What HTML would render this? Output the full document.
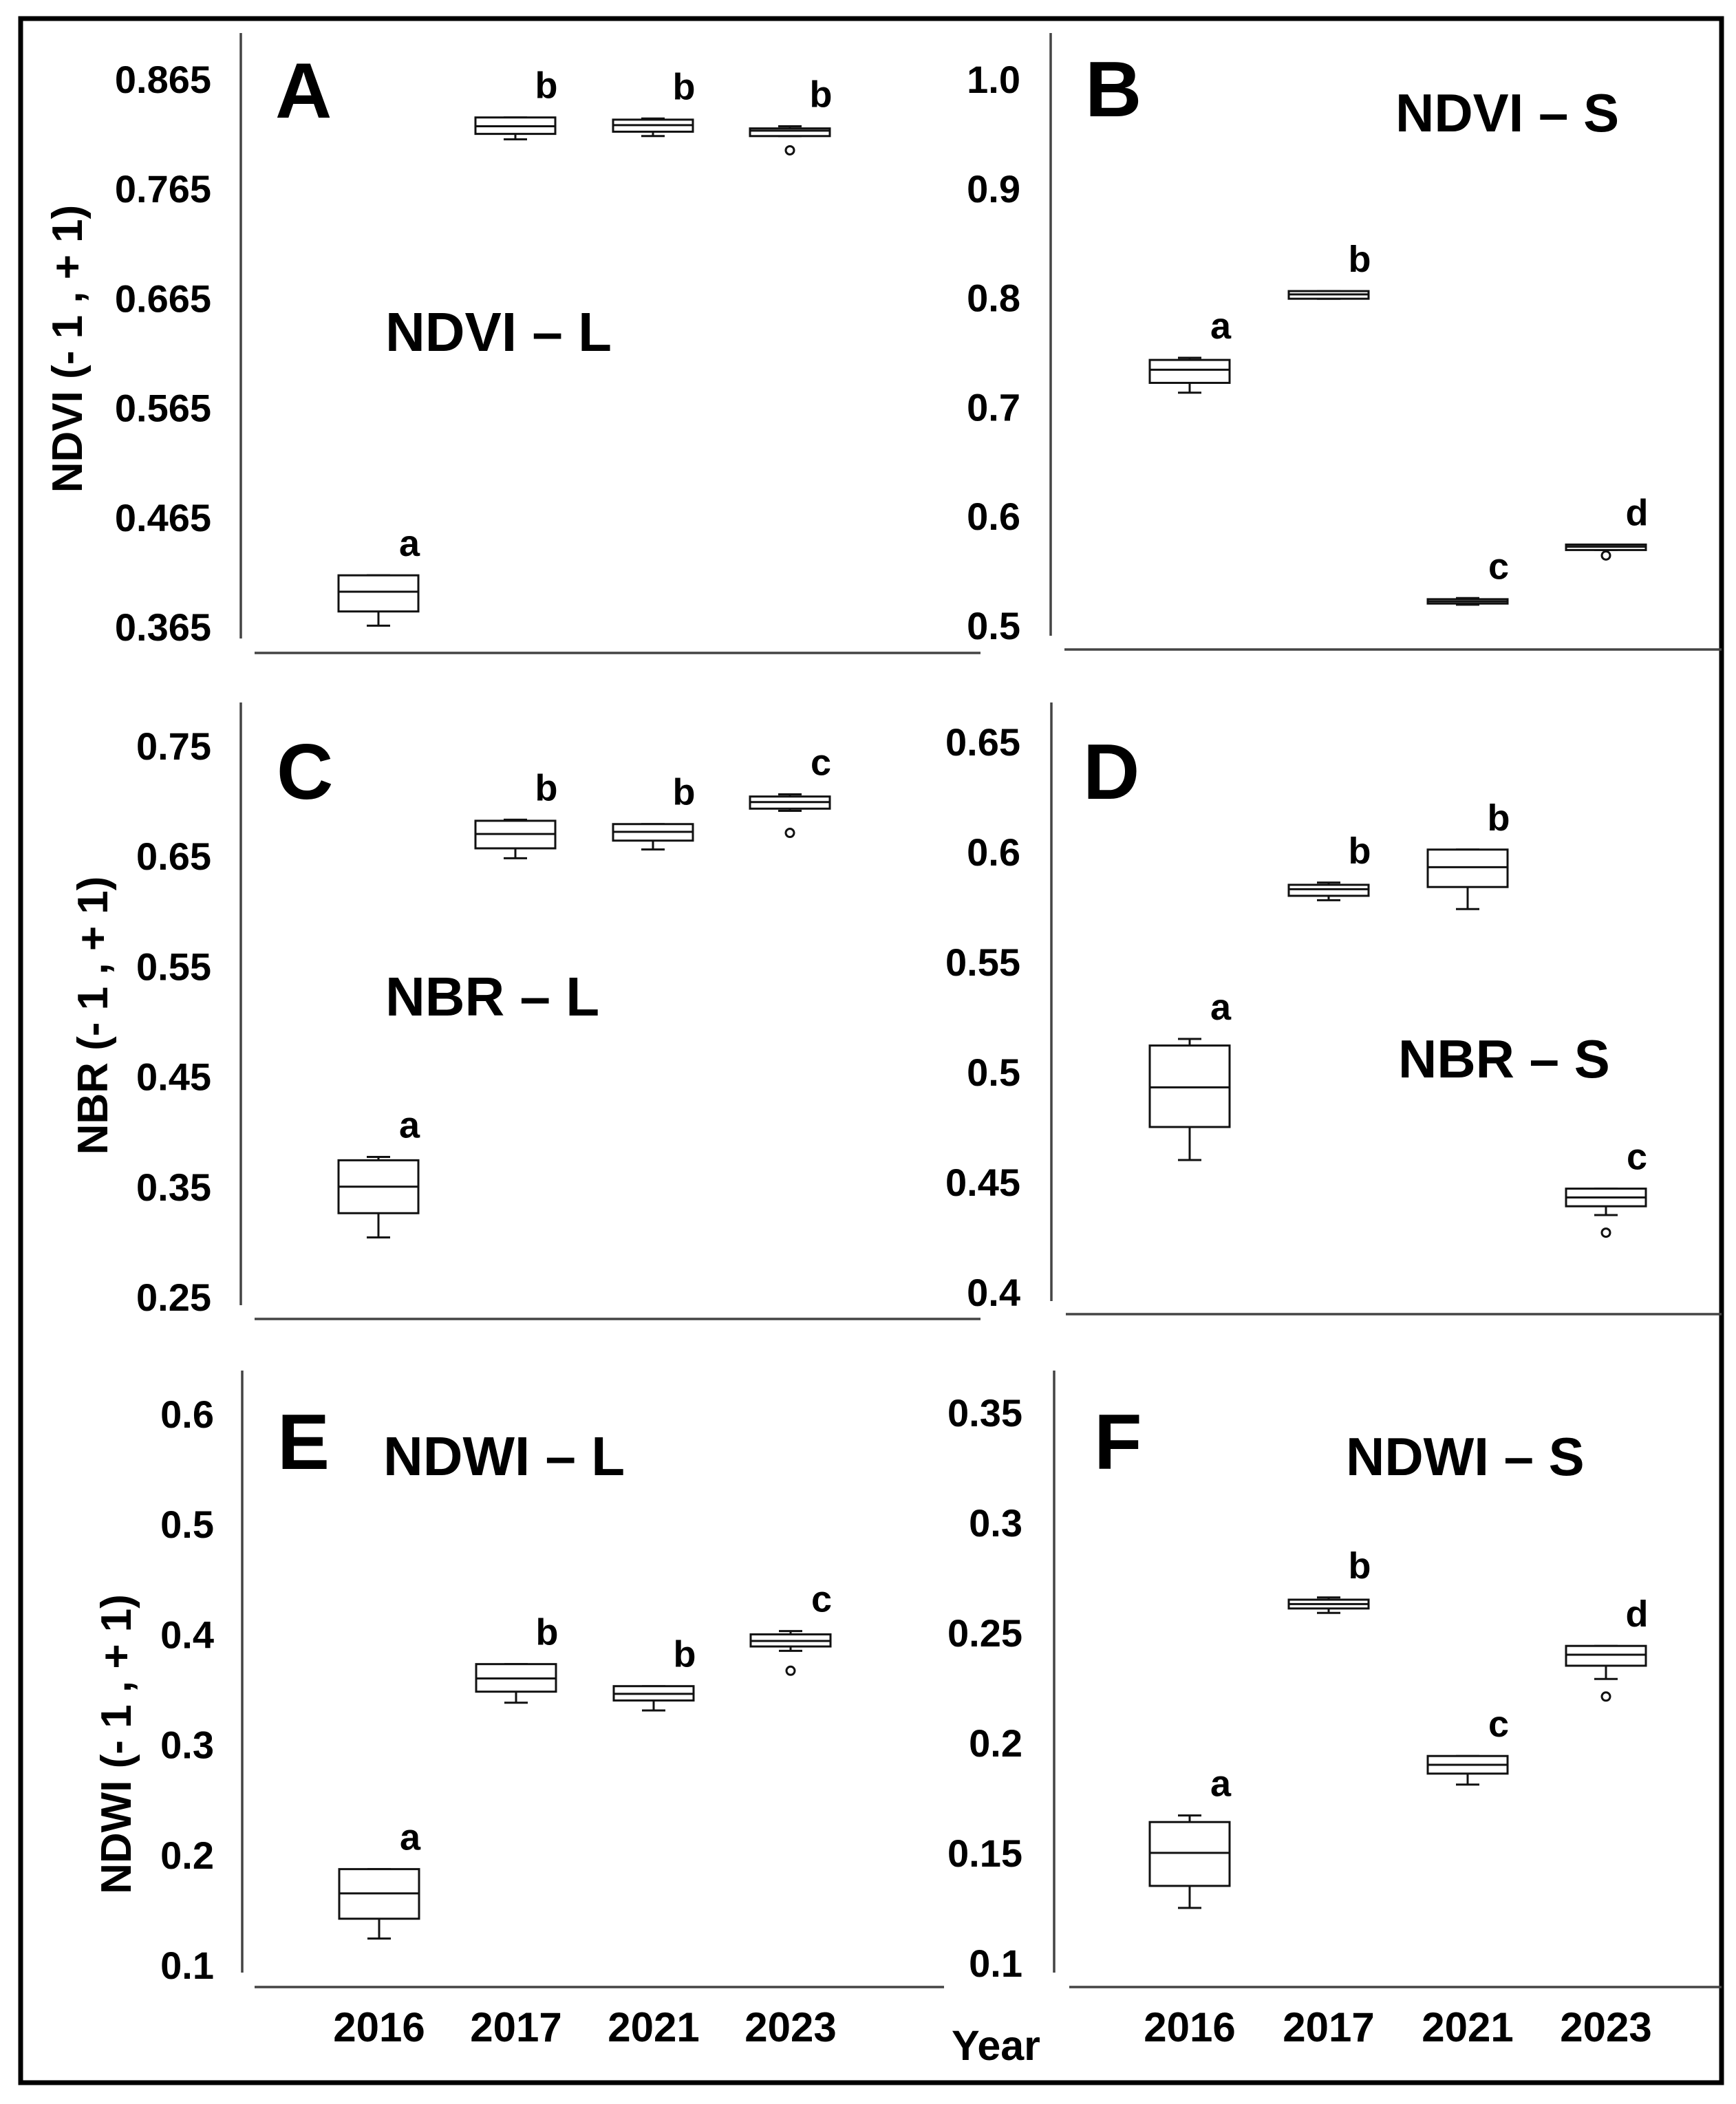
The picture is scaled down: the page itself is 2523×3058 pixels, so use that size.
<!DOCTYPE html>
<html><head><meta charset="utf-8"><style>
html,body{margin:0;padding:0;background:#fff}
svg{display:block}
text{font-family:"Liberation Sans",Arial,sans-serif;font-weight:bold;fill:#000}
</style></head><body>
<svg id="fig" width="2523" height="3058" viewBox="0 0 2523 3058" xmlns="http://www.w3.org/2000/svg">
<rect x="30" y="27" width="2472" height="3000" fill="#fff" stroke="#000" stroke-width="7"/>
</svg>
<script>
const categories = ["2016","2017","2021","2023"];
// Panel A: NDVI - L
const ndviL_min = [0.366, 0.810, 0.813, 0.813];
const ndviL_q1  = [0.379, 0.815, 0.817, 0.813];
const ndviL_med = [0.397, 0.822, 0.823, 0.818];
const ndviL_q3  = [0.412, 0.830, 0.828, 0.820];
const ndviL_max = [0.412, 0.830, 0.829, 0.822];
const ndviL_out = [null, null, null, 0.800];
const ndviL_let = ["a","b","b","b"];
const ndviL_ticks = ["0.365","0.465","0.565","0.665","0.765","0.865"];
// Panel B: NDVI - S
const ndviS_min = [0.713, 0.799, 0.519, 0.569];
const ndviS_q1  = [0.722, 0.799, 0.520, 0.569];
const ndviS_med = [0.734, 0.803, 0.522, 0.572];
const ndviS_q3  = [0.743, 0.806, 0.524, 0.574];
const ndviS_max = [0.745, 0.806, 0.525, 0.574];
const ndviS_out = [null, null, null, 0.564];
const ndviS_let = ["a","b","c","d"];
const ndviS_ticks = ["0.5","0.6","0.7","0.8","0.9","1.0"];
// Panel C: NBR - L
const nbrL_min = [0.304, 0.648, 0.656, 0.691];
const nbrL_q1  = [0.326, 0.657, 0.664, 0.693];
const nbrL_med = [0.350, 0.670, 0.672, 0.699];
const nbrL_q3  = [0.374, 0.682, 0.679, 0.704];
const nbrL_max = [0.377, 0.683, 0.679, 0.706];
const nbrL_out = [null, null, null, 0.671];
const nbrL_let = ["a","b","b","c"];
const nbrL_ticks = ["0.25","0.35","0.45","0.55","0.65","0.75"];
// Panel D: NBR - S
const nbrS_min = [0.460, 0.578, 0.574, 0.435];
const nbrS_q1  = [0.475, 0.580, 0.584, 0.439];
const nbrS_med = [0.493, 0.583, 0.593, 0.443];
const nbrS_q3  = [0.512, 0.585, 0.601, 0.447];
const nbrS_max = [0.515, 0.586, 0.601, 0.447];
const nbrS_out = [null, null, null, 0.427];
const nbrS_let = ["a","b","b","c"];
const nbrS_ticks = ["0.4","0.45","0.5","0.55","0.6","0.65"];
// Panel E: NDWI - L
const ndwiL_min = [0.124, 0.338, 0.331, 0.385];
const ndwiL_q1  = [0.142, 0.348, 0.340, 0.389];
const ndwiL_med = [0.165, 0.360, 0.346, 0.394];
const ndwiL_q3  = [0.187, 0.373, 0.353, 0.400];
const ndwiL_max = [0.187, 0.373, 0.353, 0.403];
const ndwiL_out = [null, null, null, 0.367];
const ndwiL_let = ["a","b","b","c"];
const ndwiL_ticks = ["0.1","0.2","0.3","0.4","0.5","0.6"];
// Panel F: NDWI - S
const ndwiS_min = [0.125, 0.259, 0.181, 0.229];
const ndwiS_q1  = [0.135, 0.261, 0.186, 0.235];
const ndwiS_med = [0.150, 0.263, 0.190, 0.240];
const ndwiS_q3  = [0.164, 0.265, 0.194, 0.244];
const ndwiS_max = [0.167, 0.266, 0.194, 0.244];
const ndwiS_out = [null, null, null, 0.221];
const ndwiS_let = ["a","b","c","d"];
const ndwiS_ticks = ["0.1","0.15","0.2","0.25","0.3","0.35"];

const NS = "http://www.w3.org/2000/svg";
const svg = document.getElementById("fig");
function mk(tag, attrs, parent) {
  const e = document.createElementNS(NS, tag);
  for (const k in attrs) e.setAttribute(k, attrs[k]);
  (parent || svg).appendChild(e);
  return e;
}

function drawPanel(p) {
  const g = mk("g", {});
  
  
  const y = v => p.y0 + (p.v0 - v) * p.k;
  const ya = mk("line", {x1:p.ax, x2:p.ax, y1:p.top, y2:p.bot, stroke:"#444", "stroke-width":3.5}, g);
  
  
  const xa = mk("line", {x1:p.xr[0], x2:p.xr[1], y1:p.xay, y2:p.xay, stroke:"#444", "stroke-width":3.5}, g);
  
  
  p.ticks.forEach(t => {
    const tl = mk("text", {x:p.lx, y:y(parseFloat(t)) + 20, "text-anchor":"end", "font-size":56}, g);
    tl.textContent = t;
    
    
  });
  const hw = 58, cw = 17;
  categories.forEach((c, i) => {
    const cx = p.cx[i];
    const bg = mk("g", {fill:"none", stroke:"#111", "stroke-width":3}, g);
    
    
    mk("line", {x1:cx, x2:cx, y1:y(p.max[i]), y2:y(p.q3[i])}, bg);
    mk("line", {x1:cx, x2:cx, y1:y(p.q1[i]), y2:y(p.min[i])}, bg);
    mk("line", {x1:cx-cw, x2:cx+cw, y1:y(p.max[i]), y2:y(p.max[i])}, bg);
    mk("line", {x1:cx-cw, x2:cx+cw, y1:y(p.min[i]), y2:y(p.min[i])}, bg);
    mk("rect", {x:cx-hw, y:y(p.q3[i]), width:2*hw, height:Math.max(2, y(p.q1[i]) - y(p.q3[i])), fill:"#fff"}, bg);
    mk("line", {x1:cx-hw, x2:cx+hw, y1:y(p.med[i]), y2:y(p.med[i])}, bg);
    if (p.out[i] !== null) {
      const o = mk("circle", {cx:cx, cy:y(p.out[i]), r:6}, bg);
      
      
    }
    const lt = mk("text", {x:cx+45, y:y(p.max[i]) - 28, "text-anchor":"middle", "font-size":54}, g);
    lt.textContent = p.let[i];
    
    
  });
  const pl = mk("text", {x:p.pl[0], y:p.pl[1], "font-size":114}, g);
  pl.textContent = p.letter;
  
  
  const ti = mk("text", {x:p.tl[0], y:p.tl[1], "font-size":p.tfs || 80}, g);
  ti.textContent = p.title;
  
  
  if (p.ytitle) {
    const yt = mk("text", {x:0, y:0, "text-anchor":"middle", "font-size":62,
      transform:"translate(" + p.ytx + "," + p.yty + ") rotate(-90)"}, g);
    yt.textContent = p.ytitle;
    
    
  }
  if (p.xlabels) {
    categories.forEach((c, i) => {
      const xl = mk("text", {x:p.cx[i], y:2967, "text-anchor":"middle", "font-size":60}, g);
      xl.textContent = c;
      
      
    });
  }
}

const cL = [550, 749, 949, 1148];
const cR = [1729, 1931, 2133, 2334];
drawPanel({name:"panel-a", ax:350, top:48, bot:928, xay:949, xr:[370,1425], v0:0.865, y0:115, k:1592, lx:307, cx:cL,
  min:ndviL_min, q1:ndviL_q1, med:ndviL_med, q3:ndviL_q3, max:ndviL_max, out:ndviL_out, let:ndviL_let, ticks:ndviL_ticks,
  letter:"A", pl:[400,171], title:"NDVI – L", tl:[560,510], ytitle:"NDVI (- 1 , + 1)", ytx:119, yty:507});
drawPanel({name:"panel-b", ax:1527, top:48, bot:924, xay:944, xr:[1547,2502], v0:1.0, y0:115, k:1588, lx:1483, cx:cR,
  min:ndviS_min, q1:ndviS_q1, med:ndviS_med, q3:ndviS_q3, max:ndviS_max, out:ndviS_out, let:ndviS_let, ticks:ndviS_ticks,
  letter:"B", pl:[1577,169], title:"NDVI – S", tl:[2028,191], tfs:78});
drawPanel({name:"panel-c", ax:350, top:1021, bot:1897, xay:1917, xr:[370,1425], v0:0.75, y0:1084, k:1602, lx:307, cx:cL,
  min:nbrL_min, q1:nbrL_q1, med:nbrL_med, q3:nbrL_q3, max:nbrL_max, out:nbrL_out, let:nbrL_let, ticks:nbrL_ticks,
  letter:"C", pl:[402,1161], title:"NBR – L", tl:[560,1476], ytitle:"NBR (- 1 , + 1)", ytx:156, yty:1476});
drawPanel({name:"panel-d", ax:1528, top:1021, bot:1891, xay:1910, xr:[1549,2502], v0:0.65, y0:1078, k:3200, lx:1483, cx:cR,
  min:nbrS_min, q1:nbrS_q1, med:nbrS_med, q3:nbrS_q3, max:nbrS_max, out:nbrS_out, let:nbrS_let, ticks:nbrS_ticks,
  letter:"D", pl:[1574,1161], title:"NBR – S", tl:[2032,1566], tfs:78});
drawPanel({name:"panel-e", ax:352, top:1992, bot:2867, xay:2888, xr:[370,1372], v0:0.6, y0:2055, k:1602, lx:311, cx:[551,750,950,1149],
  min:ndwiL_min, q1:ndwiL_q1, med:ndwiL_med, q3:ndwiL_q3, max:ndwiL_max, out:ndwiL_out, let:ndwiL_let, ticks:ndwiL_ticks,
  letter:"E", pl:[403,2135], title:"NDWI – L", tl:[557,2144], ytitle:"NDWI (- 1 , + 1)", ytx:190, yty:2535, xlabels:true});
drawPanel({name:"panel-f", ax:1532, top:1992, bot:2867, xay:2888, xr:[1554,2502], v0:0.35, y0:2053, k:3200, lx:1486, cx:cR,
  min:ndwiS_min, q1:ndwiS_q1, med:ndwiS_med, q3:ndwiS_q3, max:ndwiS_max, out:ndwiS_out, let:ndwiS_let, ticks:ndwiS_ticks,
  letter:"F", pl:[1590,2135], title:"NDWI – S", tl:[1956,2144], tfs:78, xlabels:true});

const yr = mk("text", {x:1383, y:2994, "font-size":61});
yr.textContent = "Year";


</script>
</body></html>
